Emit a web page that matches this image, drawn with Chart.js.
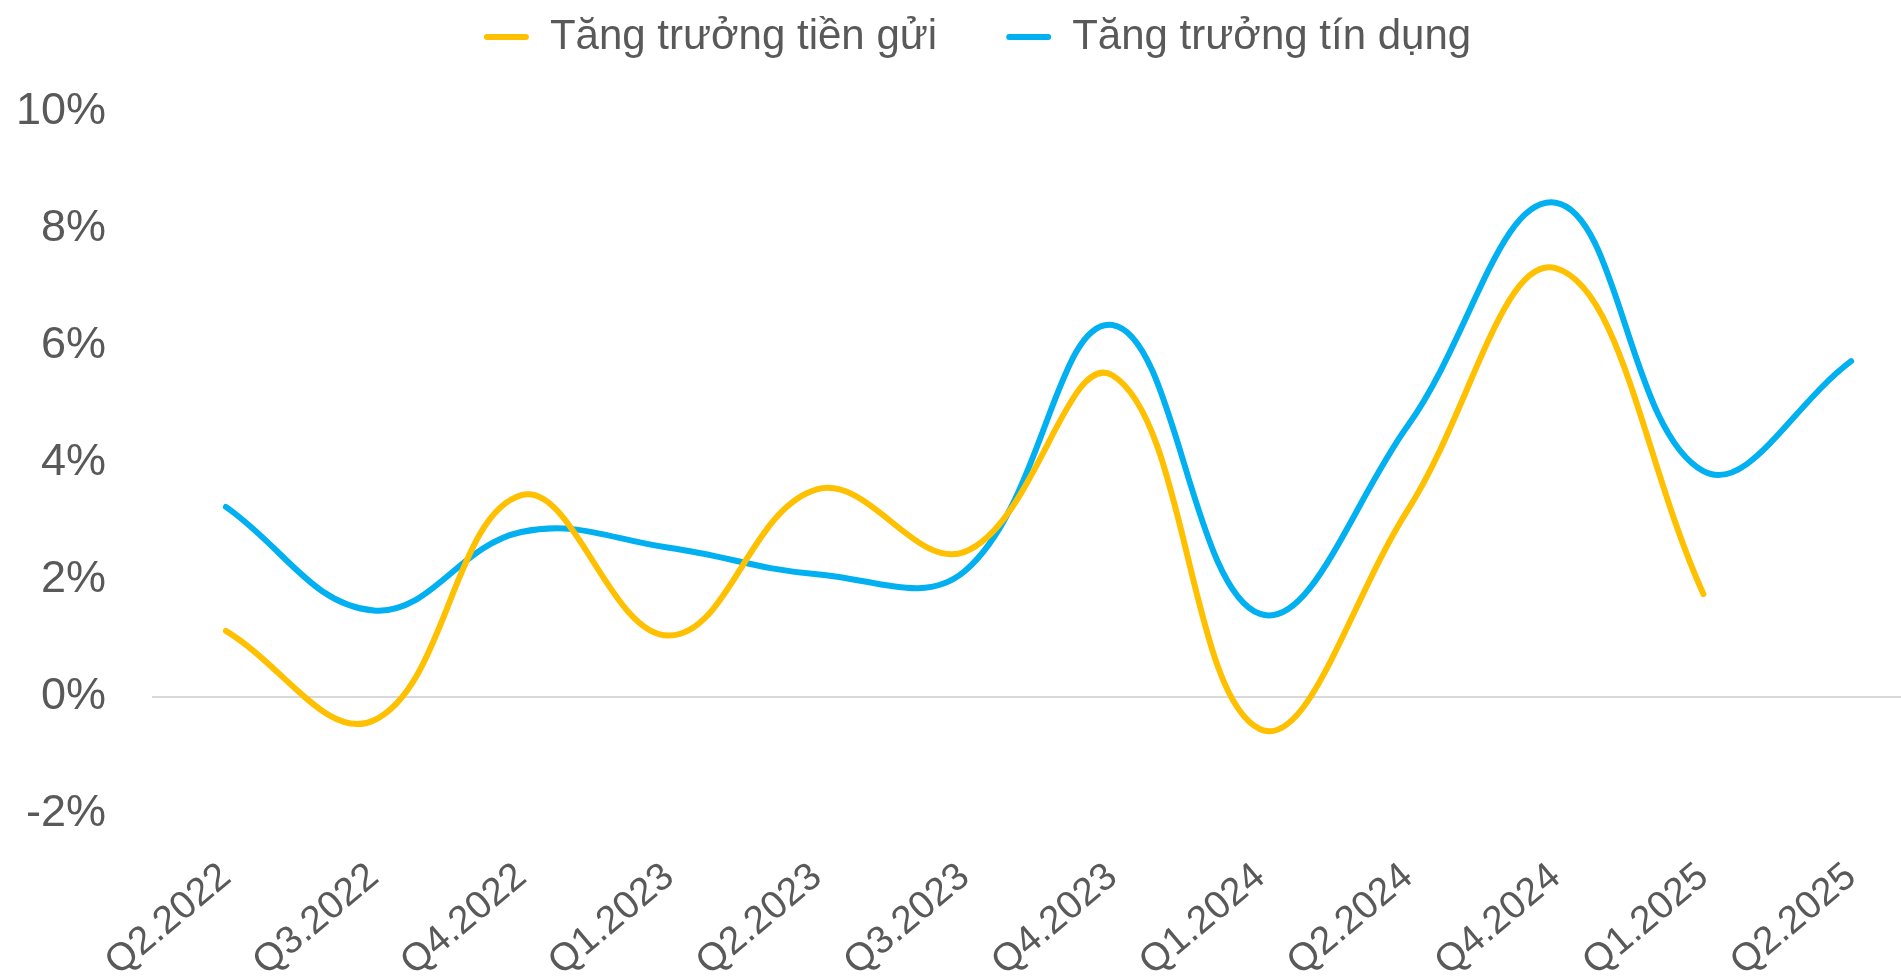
<!DOCTYPE html>
<html>
<head>
<meta charset="utf-8">
<script src="https://cdn.jsdelivr.net/npm/chart.js@4/dist/chart.umd.min.js"></script>
<style>
  html, body { margin: 0; padding: 0; background: #fff; overflow: hidden; }
  #wrap { width: 1960px; height: 979px; position: relative; }
</style>
</head>
<body>
<div id="wrap"><canvas id="chart1"></canvas></div>
<script>
// quarters (source skips Q3.2024)
const labels = ['Q2.2022', 'Q3.2022', 'Q4.2022', 'Q1.2023', 'Q2.2023', 'Q3.2023',
                'Q4.2023', 'Q1.2024', 'Q2.2024', 'Q4.2024', 'Q1.2025', 'Q2.2025'];
// growth, %
const depositGrowth = [1.13, -0.40, 3.45, 1.05, 3.55, 2.48, 5.50, -0.55, 3.20, 7.33, 1.76, null];
const creditGrowth  = [3.25, 1.48, 2.82, 2.55, 2.10, 2.15, 6.36, 1.42, 4.64, 8.45, 3.86, 5.74];
const yTicks = [-2, 0, 2, 4, 6, 8, 10];

const textColor = '#595959';
const fontFamily = 'Arial, "Liberation Sans", sans-serif';

// nudge the legend so it sits where the original one does
const legendShift = {
  id: 'legendShift',
  afterLayout(chart) {
    const lg = chart.legend;
    lg.top -= 65;
    lg.left += 15; lg.right += 15;
  }
};

const ctx = document.getElementById('chart1');
new Chart(ctx, {
  type: 'line',
  data: {
    labels: labels,
    datasets: [{
      label: 'Tăng trưởng tiền gửi',
      data: depositGrowth,
      borderColor: '#FFC000',
      backgroundColor: '#FFC000',
      borderWidth: 6,
      borderCapStyle: 'round',
      pointRadius: 0,
      tension: 0.4
    }, {
      label: 'Tăng trưởng tín dụng',
      data: creditGrowth,
      borderColor: '#00B0F0',
      backgroundColor: '#00B0F0',
      borderWidth: 6,
      borderCapStyle: 'round',
      pointRadius: 0,
      tension: 0.4
    }]
  },
  options: {
    responsive: true,
    maintainAspectRatio: false,
    animation: false,
    layout: { padding: { left: 0, right: 35, top: 0, bottom: 0 } },
    plugins: {
      tooltip: { enabled: false },
      legend: {
        position: 'top',
        maxHeight: 100,
        labels: {
          color: textColor,
          font: { family: fontFamily, size: 42 },
          boxWidth: 45,
          boxHeight: 6,
          useBorderRadius: true,
          borderRadius: 3,
          padding: 69,
          generateLabels(chart) {
            const items = Chart.defaults.plugins.legend.labels.generateLabels(chart);
            items.forEach(it => { it.lineWidth = 0; });
            return items;
          }
        }
      }
    },
    scales: {
      x: {
        offset: true,
        grid: { display: false, offset: true },
        border: { display: false },
        ticks: {
          color: textColor,
          font: { family: fontFamily, size: 39 },
          minRotation: 40,
          maxRotation: 40,
          padding: 32,
          autoSkip: false
        },
        afterFit(scale) {
          scale.height = 165;
          scale.paddingLeft = 0;
          scale.paddingRight = 0;
        }
      },
      y: {
        min: -2,
        max: 10,
        afterBuildTicks(scale) {
          scale.ticks = yTicks.map(v => ({ value: v }));
        },
        border: { display: false },
        grid: {
          drawTicks: false,
          lineWidth: 2,
          color: c => (c.tick && c.tick.value === 0) ? '#D9D9D9' : 'rgba(0,0,0,0)'
        },
        ticks: {
          color: textColor,
          font: { family: fontFamily, size: 45 },
          padding: 46,
          callback: v => v + '%'
        },
        afterFit(scale) {
          scale.width = 152;
          scale.paddingTop = 112;
        }
      }
    }
  },
  plugins: [legendShift]
});
</script>
</body>
</html>
